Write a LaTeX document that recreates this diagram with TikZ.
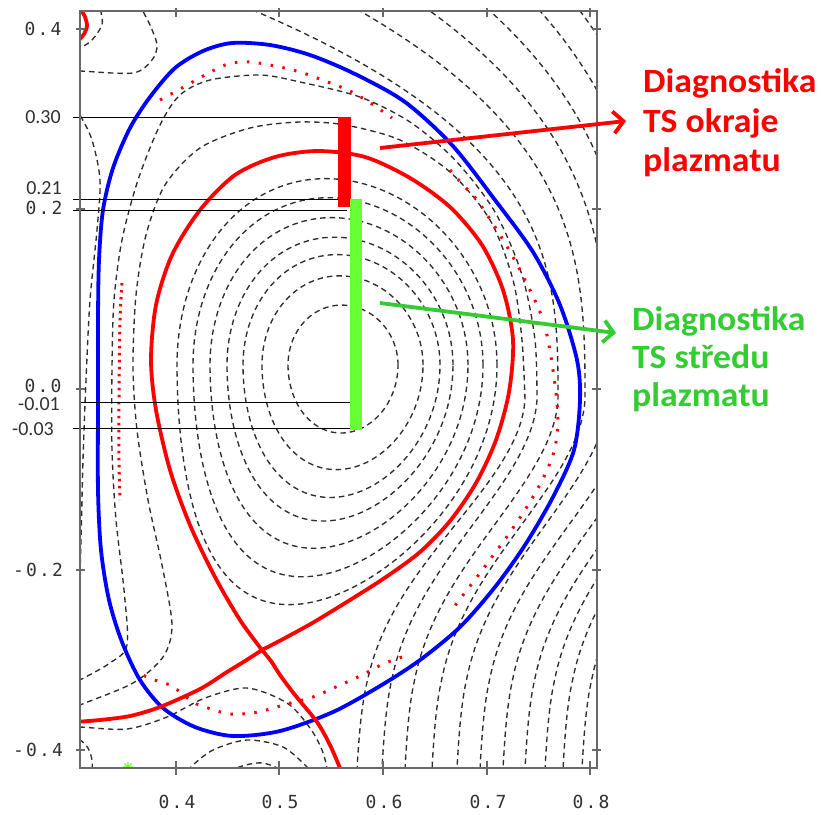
\documentclass[tikz,border=0pt]{standalone}
\usepackage{fontspec}
\newfontfamily\tickfont[LetterSpace=12]{DejaVu Sans Mono}
\newfontfamily\calfont{Carlito}
\newfontfamily\labfont[FakeStretch=1.05]{Carlito}
\usetikzlibrary{arrows.meta}
\definecolor{rd}{RGB}{255,0,0}
\definecolor{bl}{RGB}{0,0,255}
\definecolor{gtext}{RGB}{51,204,51}
\definecolor{gbar}{RGB}{102,255,51}
\definecolor{axisgray}{RGB}{105,105,105}
\definecolor{labgray}{RGB}{50,50,50}
\begin{document}
\begin{tikzpicture}[x=1pt,y=-1pt,
  contour/.style={draw=black!82,line width=1.35pt,dash pattern=on 5.5pt off 4pt},
  redline/.style={draw=rd,line width=3.8pt},
  blueline/.style={draw=bl,line width=3.8pt},
  reddots/.style={draw=rd,line width=3pt,dash pattern=on 2.5pt off 9.5pt},
  reddotsdense/.style={draw=rd,line width=3pt,dash pattern=on 2.5pt off 4.5pt},
  hline/.style={draw=black,line width=1pt},
  tickmark/.style={draw=axisgray,line width=1.5pt},
  ticklab/.style={text=labgray,font=\tickfont\fontsize{18}{18}\selectfont,inner sep=0pt},
  callab/.style={text=labgray,font=\calfont\fontsize{20}{20}\selectfont,inner sep=0pt},
  redtext/.style={text=rd,font=\labfont\bfseries\fontsize{34}{34}\selectfont,anchor=base west,inner sep=0pt},
  greentext/.style={text=gtext,font=\labfont\bfseries\fontsize{34}{34}\selectfont,anchor=base west,inner sep=0pt},
  arrowline/.style={line width=3.8pt,-{Straight Barb[length=10pt,width=22pt]}}
]
\useasboundingbox (0,0) rectangle (821,814);
\fill[white] (0,0) rectangle (821,814);

\begin{scope}
\clip (80,11) rectangle (597,768);
% inner closed flux contours
\foreach \a/\R in {160/337,145/338,129/339,113/340,98.5/341.5,80.5/342.5,55/343}{
  \pgfmathsetmacro{\rh}{\a/181}
  \pgfmathsetmacro{\ku}{1.05+0.13*\rh}
  \pgfmathsetmacro{\kl}{1.1+0.45*\rh}
  \pgfmathsetmacro{\du}{4.6*\rh}
  \pgfmathsetmacro{\dl}{22.3*\rh*\rh}
  \draw[contour] plot[domain=0:180,samples=60,variable=\t,smooth] ({\R+\a*cos(\t+\du*sin(\t))},{365-\ku*\a*sin(\t)})
     -- plot[domain=180:360,samples=60,variable=\t,smooth] ({\R+\a*cos(\t+\dl*sin(\t))},{365-\kl*\a*sin(\t)}) -- cycle;
}
% outer contours R1, R2
\draw[contour] plot[smooth] coordinates {(70,710)(80,705)(133,683)(163,657)(172,625)(162,565)(148,500)(137,430)(133,367)(136,295)(146,235)(165,185)(200,148)(250,128)(300,122)(345,125)(400,140)(450,172)(490,220)(513,280)(522,340)(525,400)}
  -- plot[domain=0.999:0.01,samples=40,variable=\q,smooth] ({357+168*(0.15*\q+0.85*(3*\q^2-2*\q^3)^1.8)},{768-368*\q}) -- (357,776);
\draw[contour] plot[smooth] coordinates {(70,685)(80,680)(110,663)(127,645)(124,590)(116,520)(112,450)(112,367)(114,300)(122,240)(138,180)(160,125)(180,95)(210,80)(260,75)(300,82)(360,97)(410,122)(455,160)(495,212)(522,275)(535,340)(537,400)}
  -- plot[domain=0.999:0.01,samples=40,variable=\q,smooth] ({382+155*(0.15*\q+0.85*(3*\q^2-2*\q^3)^1.8)},{768-368*\q}) -- (382,776);
% right family
\foreach \T/\M/\B in {255/558/405,360/585/432,430/608/457,490/632/480,540/655/503,580/678/525,615/698/545,650/716/563,690/735/582}{
  \draw[contour] plot[domain=-0.04:0.999,samples=45,variable=\s,smooth] ({\T+(\M-\T)*(1-(1-\s)^3)},{11+389*\s})
     -- (\M,400)
     -- plot[domain=0.999:0.01,samples=45,variable=\q,smooth] ({\B+(\M-\B)*(0.15*\q+0.85*(3*\q^2-2*\q^3)^1.8)},{768-368*\q}) -- (\B,776);
}
% left edge contour
\draw[contour] plot[smooth] coordinates {(70,100)(80,115)(92,140)(100,180)(97,230)(90,300)(86,380)(83,460)(81,540)(79,600)(76,650)};
% top-left corner contours
\draw[contour] plot[smooth] coordinates {(70,71)(80,71)(133,73)(152,60)(157,45)(150,25)(143,11)(140,0)};
\draw[contour] plot[smooth] coordinates {(100,0)(101,12)(102,25)(92,40)(80,48)(70,50)};
% private flux contours
\draw[contour] plot[smooth] coordinates {(70,727)(80,727)(127,729)(167,717)(205,698)(247,688)(287,703)(310,728)(322,750)(327,768)(328,780)};
\draw[contour] plot[smooth] coordinates {(185,780)(190,768)(213,750)(247,740)(283,747)(308,768)(312,775)};
\draw[contour] plot[smooth] coordinates {(232,775)(237,768)(250,764)(263,763)(277,768)(280,775)};
\draw[contour] plot[smooth] coordinates {(70,738)(80,740)(88,748)(92,760)(92,775)};

% blue boundary
\draw[blueline] plot[smooth cycle] coordinates {(99,260)(103,210)(113,168)(130,128)(150,97)(175,68)(203,51)(232,43)(270,45)(310,55)(355,74)(405,102)(452,145)(495,200)(533,252)(560,305)(577,360)(580,400)(574,450)(553,497)(525,545)(495,587)(460,627)(420,660)(380,686)(333,712)(280,731)(233,736)(195,727)(163,708)(140,680)(122,642)(109,600)(101,550)(98,490)(98,400)(98,320)};

% red dotted surface
\draw[reddots] plot[smooth] coordinates {(160,100)(182,88)(205,75)(228,64)(250,62)(275,66)(300,72)(325,81)(350,91)(372,104)(392,118)};
\draw[reddots] plot[smooth] coordinates {(450,170)(463,185)(477,200)(500,235)(520,270)(543,320)(553,370)(558,420)(553,455)(537,490)(513,528)(480,573)(450,612)};
\draw[reddots] plot[smooth] coordinates {(402,657)(383,664)(360,676)(338,686)(313,697)(287,704)(258,712)(230,714)(205,707)(193,702)(172,686)(160,682)(135,672)};
\draw[reddotsdense] plot[smooth] coordinates {(122,283)(120,320)(119,400)(119,460)(120,500)};

% red separatrix with legs
\draw[redline] plot[smooth] coordinates {(262,650)(240,620)(215,577)(190,525)(170,470)(156,410)(151,360)(156,305)(172,255)(200,210)(235,175)(275,157)(318,151)(365,157)(410,178)(450,207)(482,245)(503,290)(513,340)(509,392)(496,440)(476,483)(450,521)(420,552)(386,577)(350,600)(314,622)(285,638)(262,650)};
\draw[redline] plot[smooth] coordinates {(262,650)(245,661)(227,672)(200,689)(160,707)(130,716)(100,720)(75,722)};
\draw[redline] plot[smooth] coordinates {(262,650)(271,661)(280,675)(295,695)(317,722)(330,745)(340,768)(343,775)};
\draw[redline] plot[smooth] coordinates {(80,8)(85,17)(87,26)(84,34)(79,40)};
% green marker on axis
\draw[draw=gbar,line width=1.2pt] (123,767)--(133,767) (128,762)--(128,772) (124.5,763.5)--(131.5,770.5) (124.5,770.5)--(131.5,763.5);
\end{scope}

% horizontal reference lines
\draw[hline] (73,117)--(338,117);
\draw[hline] (73,199.5)--(348,199.5);
\draw[hline] (73,210)--(347,210);
\draw[hline] (80,402)--(355,402);
\draw[hline] (73,428)--(350,428);

% diagnostic bars
\fill[rd] (338,117) rectangle (351,207);
\fill[gbar] (350,199) rectangle (362,430);

% frame
\draw[draw=axisgray,line width=2pt] (80,11) rectangle (597,768);
\foreach \xx in {176,279,383,487,590}{
  \draw[tickmark] (\xx,8)--(\xx,17);
  \draw[tickmark] (\xx,761)--(\xx,775);
}
\foreach \yy in {29,209,389,570,750}{
  \draw[tickmark] (76,\yy)--(85,\yy);
  \draw[tickmark] (592,\yy)--(601,\yy);
}

% tick labels
\node[ticklab] (x4) at (177,802) {0.4};
\node[ticklab] (x5) at (280,802) {0.5};
\node[ticklab] (x6) at (384,802) {0.6};
\node[ticklab] (x7) at (488,802) {0.7};
\node[ticklab] (x8) at (591,802) {0.8};
\node[ticklab] (y4) at (43,29) {0.4};
\node[ticklab] (y2) at (44,208) {0.2};
\node[ticklab] (y0) at (43,386) {0.0};
\node[ticklab] (ym2) at (38,570) {-0.2};
\node[ticklab] (ym4) at (38,750) {-0.4};
\node[callab] (l30) at (43,117) {0.30};
\node[callab] (l21) at (44,188) {0.21};
\node[callab] (lm01) at (39,404) {-0.01};
\node[callab] (lm03) at (33,429) {-0.03};

% labels
\node[redtext] (r1) at (643,92) {Diagnostika};
\node[redtext] (r2) at (643,132) {TS okraje};
\node[redtext] (r3) at (643,171) {plazmatu};
\node[greentext] (g1) at (632,330) {Diagnostika};
\node[greentext] (g2) at (632,368) {TS středu};
\node[greentext] (g3) at (632,406) {plazmatu};

% arrows
\coordinate (rs) at (380,148);
\coordinate (rt) at (626,121);
\coordinate (gs) at (380,303);
\coordinate (gt) at (616,333);
\draw[arrowline,draw=rd] (rs) -- (rt);
\draw[arrowline,draw=gtext] (gs) -- (gt);
\end{tikzpicture}
\end{document}
